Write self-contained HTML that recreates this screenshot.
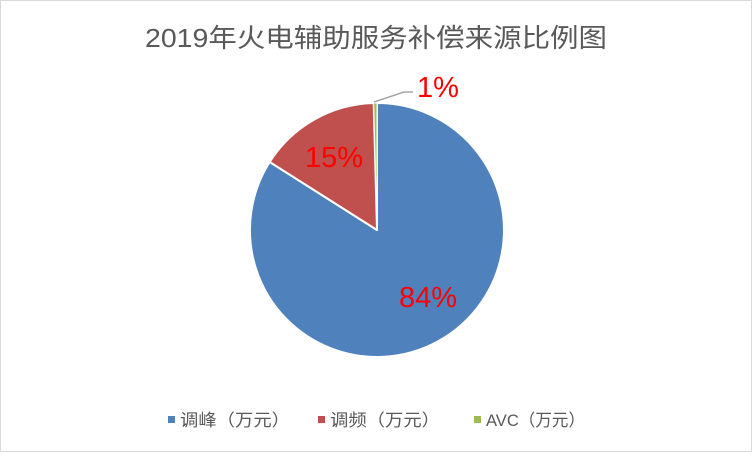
<!DOCTYPE html>
<html><head><meta charset="utf-8"><style>
body{margin:0;background:#fff}
svg text{font-family:"Liberation Sans","Noto Sans CJK SC",sans-serif}
</style></head><body>
<svg width="752" height="452" xmlns="http://www.w3.org/2000/svg">
<rect x="0.5" y="0.5" width="751" height="451" fill="#fff" stroke="#d9d9d9"/>
<text x="145" y="47" font-size="26" fill="#595959" textLength="462" lengthAdjust="spacingAndGlyphs">2019年火电辅助服务补偿来源比例图</text>
<g stroke="#fff" stroke-width="2" stroke-linejoin="round">
<path d="M377,230 L377,103 A127,127 0 1 1 269.7,162.0 Z" fill="#4f81bd"/>
<path d="M377,230 L269.7,162.0 A127,127 0 0 1 373.7,103.0 Z" fill="#c0504d"/>
<path d="M377,230 L373.7,103.0 A127,127 0 0 1 377,103 Z" fill="#9bbb59" stroke-width="1"/>
</g>
<polyline points="374,102 404,92 413,92" fill="none" stroke="#a6a6a6" stroke-width="1.5"/>
<g font-size="29" fill="#ff0000">
<text x="417" y="97">1%</text>
<text x="305" y="167">15%</text>
<text x="399" y="307">84%</text>
</g>
<g font-size="17" fill="#595959">
<rect x="168" y="416" width="7" height="7" fill="#4f81bd"/>
<text x="180" y="426" textLength="110" lengthAdjust="spacingAndGlyphs">调峰（万元）</text>
<rect x="318" y="416" width="7" height="7" fill="#c0504d"/>
<text x="330" y="426" textLength="110" lengthAdjust="spacingAndGlyphs">调频（万元）</text>
<rect x="474" y="416" width="7" height="7" fill="#9bbb59"/>
<text x="486" y="426" textLength="99" lengthAdjust="spacingAndGlyphs">AVC（万元）</text>
</g>
</svg>
</body></html>
